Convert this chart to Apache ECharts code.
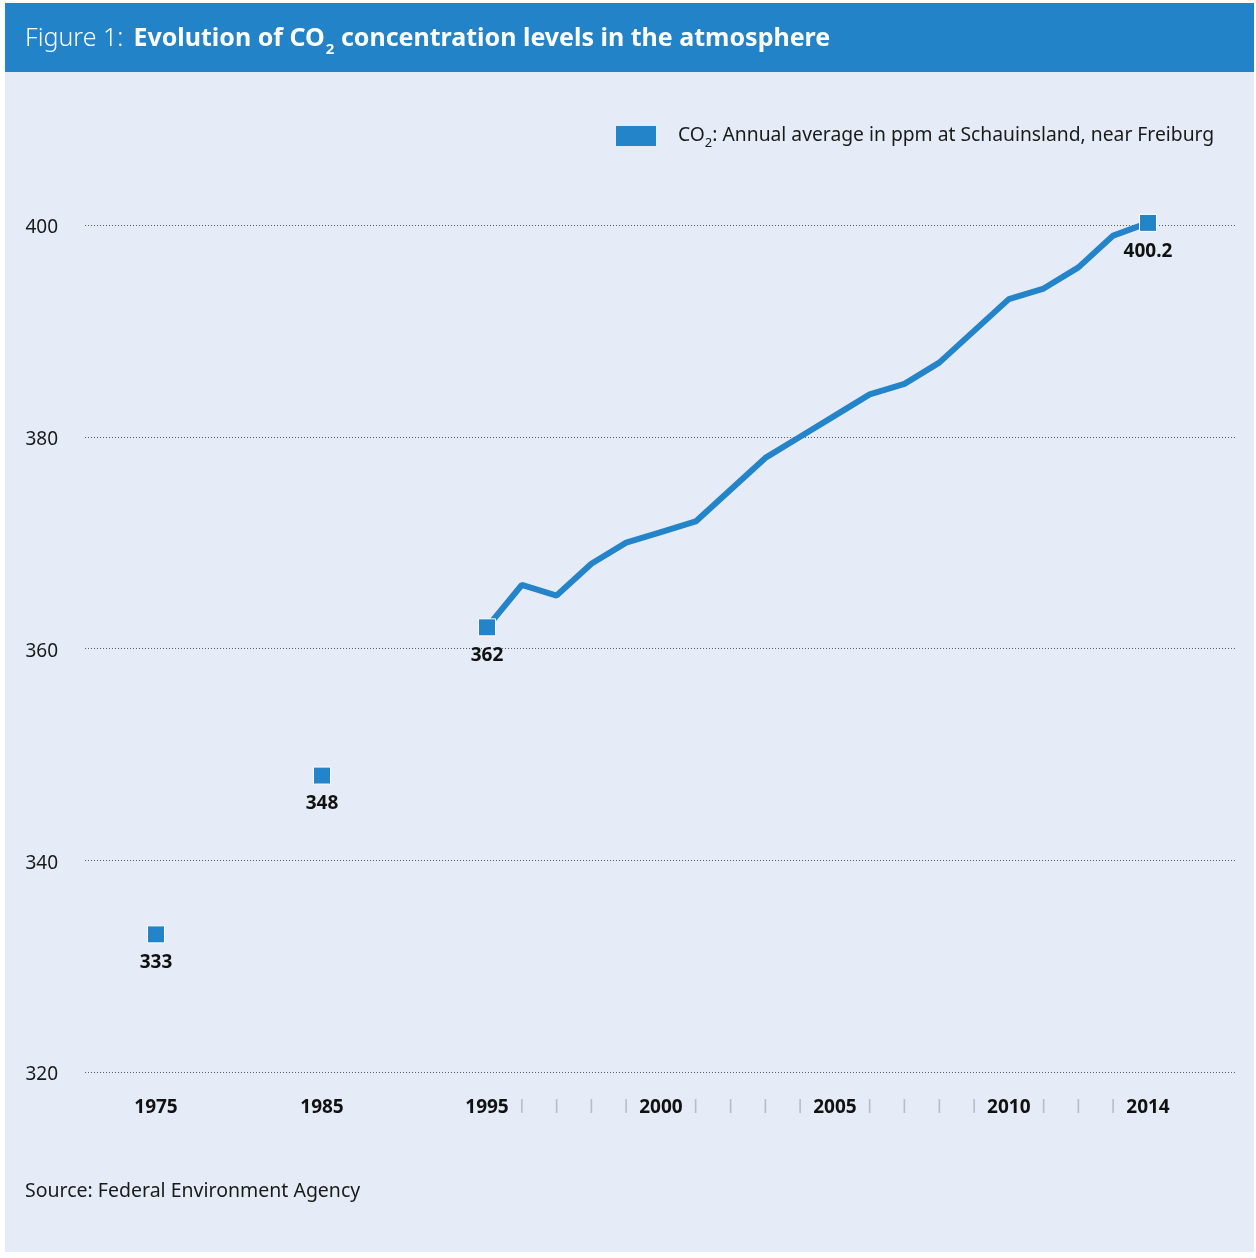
<!DOCTYPE html>
<html>
<head>
<meta charset="utf-8">
<script src="https://cdn.jsdelivr.net/npm/echarts@6/dist/echarts.min.js"></script>
<style>
  html, body { margin: 0; padding: 0; background: #ffffff; }
  #chart { width: 1256px; height: 1258px; }
</style>
</head>
<body>
<div id="chart"></div>
<script>
// Early single measurements (before the continuous record)
const earlyYears = ['1975', '1985'];
const earlyValues = [333, 348];

// Continuous annual averages, 1995-2014 (ppm)
const years = ['1995', '1996', '1997', '1998', '1999', '2000', '2001', '2002', '2003', '2004',
               '2005', '2006', '2007', '2008', '2009', '2010', '2011', '2012', '2013', '2014'];
const values = [362, 366, 365, 368, 370, 371, 372, 375, 378, 380,
                382, 384, 385, 387, 390, 393, 394, 396, 399, 400.2];

// Years written out on the axis; the rest get a small separator mark
const labelledYears = ['1975', '1985', '1995', '2000', '2005', '2010', '2014'];
// Years whose point gets a square marker and a value label
const markedYears = ['1995', '2014'];

// Value axis range and tick step (ppm)
const yMin = 320;
const yMax = 400;
const yStep = 20;

const BLUE = '#2384ca';
const FONT = '"Noto Sans", sans-serif';

const chart = echarts.init(document.getElementById('chart'), null, { renderer: 'canvas' });

const gridTop = 225;
const gridBottom = 1258 - 1072;

const yAxisBase = { type: 'value', min: yMin, max: yMax, interval: yStep };

const xLabel = {
  fontFamily: FONT,
  fontSize: 19,
  fontWeight: 'bold',
  color: '#111',
  margin: 26,
  interval: 0,
  formatter: v => (labelledYears.indexOf(v) >= 0 ? v : '{sep||}'),
  rich: { sep: { fontFamily: FONT, fontSize: 15, color: '#b9bec6' } }
};

const pointLabel = {
  show: true,
  position: 'bottom',
  distance: 10,
  fontFamily: FONT,
  fontSize: 19,
  fontWeight: 'bold',
  color: '#111'
};

const markerStyle = { color: BLUE, opacity: 1, borderColor: '#ffffff', borderWidth: 1 };

const option = {
  animation: false,
  backgroundColor: '#ffffff',
  graphic: [
    { type: 'rect', shape: { x: 5, y: 72, width: 1249, height: 1180 }, style: { fill: '#e5ecf7' }, z: -10 },
    { type: 'rect', shape: { x: 5, y: 3, width: 1249, height: 69 }, style: { fill: '#2283c9' }, z: -10 }
  ],
  title: [
    {
      left: 25,
      top: 21,
      padding: 0,
      text: '{f|Figure 1:}  {b|Evolution of CO}{s|2}{b| concentration levels in the atmosphere}',
      textStyle: {
        rich: {
          f: { fontFamily: FONT, fontSize: 25, fontWeight: 300, color: '#ffffff', lineHeight: 36 },
          b: { fontFamily: FONT, fontSize: 25, fontWeight: 'bold', color: '#ffffff', lineHeight: 36 },
          s: { fontFamily: FONT, fontSize: 15, fontWeight: 'bold', color: '#ffffff', lineHeight: 16, verticalAlign: 'bottom', padding: [0, 0, 0, 1] }
        }
      }
    },
    {
      left: 25,
      top: 1181,
      padding: 0,
      text: 'Source: Federal Environment Agency',
      textStyle: { fontFamily: FONT, fontSize: 19.5, fontWeight: 'normal', color: '#1a1a1a' }
    }
  ],
  legend: {
    left: 616,
    top: 126,
    padding: 0,
    icon: 'rect',
    itemWidth: 40,
    itemHeight: 20,
    itemStyle: { borderWidth: 0, opacity: 1 },
    data: ['co2'],
    formatter: () => '{a|CO}{s|2}{a|: Annual average in ppm at Schauinsland, near Freiburg}',
    textStyle: {
      padding: [0, 0, 0, 17],
      rich: {
        a: { fontFamily: FONT, fontSize: 19.3, color: '#1a1a1a', lineHeight: 28 },
        s: { fontFamily: FONT, fontSize: 13, color: '#1a1a1a', lineHeight: 14, verticalAlign: 'bottom' }
      }
    }
  },
  grid: [
    // full-width grid carrying the dotted reference lines and the ppm labels
    { left: 85, right: 19, top: gridTop, bottom: gridBottom },
    // early measurements
    { left: 156, right: 1256 - 322, top: gridTop, bottom: gridBottom },
    // continuous record
    { left: 487, right: 1256 - 1148, top: gridTop, bottom: gridBottom }
  ],
  xAxis: [
    { gridIndex: 0, type: 'value', min: 0, max: 1, show: false },
    {
      gridIndex: 1, type: 'category', data: earlyYears, boundaryGap: false,
      axisLine: { show: false }, axisTick: { show: false }, axisLabel: xLabel
    },
    {
      gridIndex: 2, type: 'category', data: years, boundaryGap: false,
      axisLine: { show: false }, axisTick: { show: false }, axisLabel: xLabel
    }
  ],
  yAxis: [
    Object.assign({}, yAxisBase, {
      gridIndex: 0,
      axisLine: { show: false },
      axisTick: { show: false },
      axisLabel: {
        margin: 27,
        formatter: '{v|{value}}',
        rich: { v: { fontFamily: FONT, fontSize: 19, color: '#1a1a1a', padding: [6, 0, 0, 0] } }
      },
      splitLine: { show: true, lineStyle: { color: '#555c66', width: 1, type: [1, 2] } }
    }),
    Object.assign({}, yAxisBase, { gridIndex: 1, show: false, splitLine: { show: false } }),
    Object.assign({}, yAxisBase, { gridIndex: 2, show: false, splitLine: { show: false } })
  ],
  series: [
    {
      name: 'early',
      type: 'scatter',
      xAxisIndex: 1,
      yAxisIndex: 1,
      symbol: 'rect',
      symbolSize: 17,
      itemStyle: markerStyle,
      label: pointLabel,
      data: earlyValues,
      clip: false,
      z: 5
    },
    {
      name: 'co2',
      type: 'line',
      xAxisIndex: 2,
      yAxisIndex: 2,
      lineStyle: { color: BLUE, width: 6 },
      itemStyle: markerStyle,
      symbol: 'rect',
      symbolSize: 17,
      showSymbol: true,
      showAllSymbol: true,
      clip: false,
      label: pointLabel,
      data: values.map((v, i) => {
        const marked = markedYears.indexOf(years[i]) >= 0;
        return marked
          ? { value: v }
          : { value: v, symbol: 'none', label: { show: false } };
      }),
      z: 4
    }
  ]
};

chart.setOption(option);
</script>
</body>
</html>
